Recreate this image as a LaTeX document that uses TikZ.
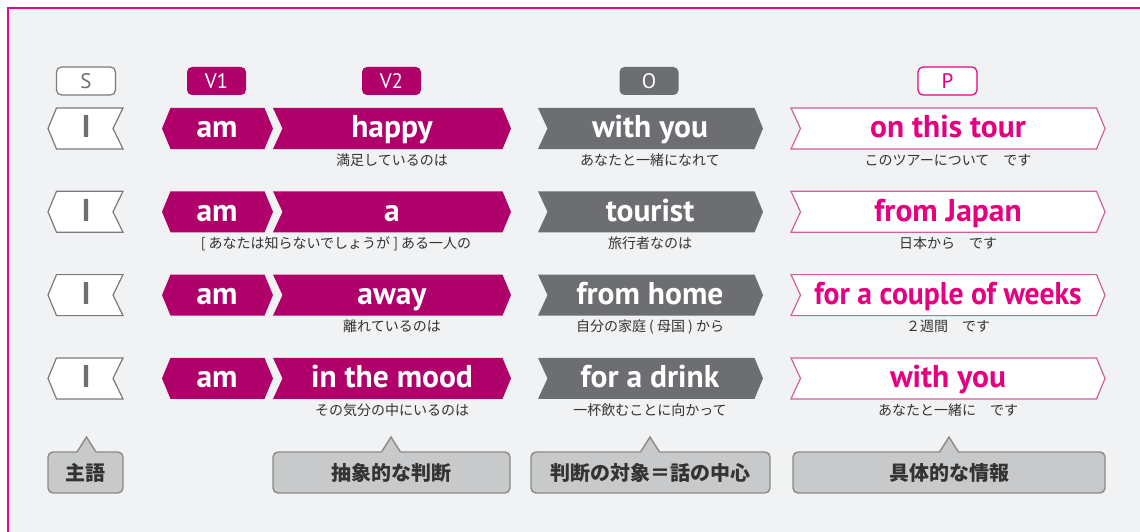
\documentclass[tikz,border=0pt]{standalone}
\usepackage{fontspec}
\usepackage{graphicx}
\setmainfont{PT Sans}
\newfontfamily\jp{Noto Sans CJK JP}
\definecolor{mag}{HTML}{B0006A}
\definecolor{gry}{HTML}{6D6E71}
\definecolor{pnk}{HTML}{E4007F}
\definecolor{pnkline}{HTML}{D2609A}
\definecolor{bgc}{HTML}{F1F2F4}
\definecolor{framec}{HTML}{E8068C}
\definecolor{calfill}{HTML}{C8C9CB}
\definecolor{calline}{HTML}{8A8A8A}
\definecolor{jptext}{HTML}{333333}
\definecolor{ibord}{HTML}{7A7A7C}
% shapes: style, x1, x2, ycenter
\newcommand{\shPN}[4]{\draw[#1] (#2,#4) -- (#2+8.5,#4-20.5) -- (#3,#4-20.5) -- (#3-10,#4) -- (#3,#4+20.5) -- (#2+8.5,#4+20.5) -- cycle;}
\newcommand{\shPP}[4]{\draw[#1] (#2,#4) -- (#2+8.5,#4-20.5) -- (#3-8.5,#4-20.5) -- (#3,#4) -- (#3-8.5,#4+20.5) -- (#2+8.5,#4+20.5) -- cycle;}
\newcommand{\shNP}[4]{\draw[#1] (#2,#4-20.5) -- (#3-8.5,#4-20.5) -- (#3,#4) -- (#3-8.5,#4+20.5) -- (#2,#4+20.5) -- (#2+9.5,#4) -- cycle;}
% callout: x1, x2, apex x, name, text
\newcommand{\callout}[5]{%
  \draw[calstyle, rounded corners=5pt] (#1,452) rectangle (#2,493);
  \fill[calfill] (#3-9.5,452) -- (#3,437) -- (#3+9.5,452) -- (#3+9.5,454) -- (#3-9.5,454) -- cycle;
  \draw[calline, line width=1.4pt, line join=miter] (#3-9.5,452) -- (#3,437) -- (#3+9.5,452);
  \node[caltext] (#4) at ({(#1+#2)/2},472.5) {#5};}
\tikzset{
  en/.style={font=\fontsize{31.5}{31.5}\selectfont\bfseries, anchor=base, inner sep=0pt},
  lab/.style={rounded corners=5pt, minimum width=59pt, minimum height=28pt, inner sep=0pt, font=\fontsize{21}{21}\selectfont, line width=1.2pt},
  jpsub/.style={font=\jp\fontsize{14}{14}\selectfont, text=jptext, inner sep=0pt},
  caltext/.style={font=\jp\bfseries\fontsize{20}{20}\selectfont, text=jptext, inner sep=0pt},
  calstyle/.style={fill=calfill, draw=calline, line width=1.4pt},
  magbox/.style={fill=mag, draw=none},
  grybox/.style={fill=gry, draw=none},
  ibox/.style={fill=white, draw=ibord, line width=1.2pt},
  pbox/.style={fill=white, draw=pnkline, line width=1.2pt},
}
\begin{document}
\begin{tikzpicture}[x=1pt,y=-1pt]
\useasboundingbox (0,0) rectangle (1140,532);
\fill[white] (0,0) rectangle (1140,532);
\fill[bgc] (8,8) rectangle (1140,532);
\draw[framec, line width=2.6pt] (8,532) -- (8,8) -- (1140,8);

% header labels
\node[lab, fill=white, draw=ibord, text=gry] (labS) at (86,81) {S};
\node[lab, fill=mag, text=white] (labV1) at (216.5,81) {V1};
\node[lab, fill=mag, text=white] (labV2) at (391.5,81) {V2};
\node[lab, fill=gry, text=white] (labO) at (649,81) {O};
\node[lab, fill=white, draw=pnk, text=pnk] (labP) at (947.5,81) {P};

% rows
\foreach \y/\n in {128.5/1, 211.8/2, 295.1/3, 378.4/4}{
  \shPN{ibox}{48}{123}{\y}
  \shPP{magbox}{162}{273}{\y}
  \shNP{magbox}{273}{511}{\y}
  \shNP{grybox}{538}{763}{\y}
  \shNP{pbox}{791}{1105}{\y}
  \node[en, text=gry] (i\n) at (86,\y+9.5) {I};
  \node[en, text=white] (am\n) at (217,\y+9.5) {am};
}

% row 1
\node[en, text=white] (v2a) at (392,128.5+9.5) {happy};
\node[en, text=white] (oa) at (650,128.5+9.5) {with you};
\node[en, text=pnk] (pa) at (948,128.5+9.5) {on this tour};
\node[jpsub] (v2ja) at (392,160) {満足しているのは};
\node[jpsub] (oja) at (650,160) {あなたと一緒になれて};
\node[jpsub] (pja) at (948,160) {このツアーについて　です};

% row 2
\node[en, text=white] (v2b) at (392,211.8+9.5) {a};
\node[en, text=white] (ob) at (650,211.8+9.5) {tourist};
\node[en, text=pnk] (pb) at (948,211.8+9.5) {from Japan};
\node[jpsub] (v2jb) at (336,243.3) {[ あなたは知らないでしょうが ] ある一人の};
\node[jpsub] (ojb) at (650,243.3) {旅行者なのは};
\node[jpsub] (pjb) at (948,243.3) {日本から　です};

% row 3
\node[en, text=white] (v2c) at (392,295.1+9.5) {away};
\node[en, text=white] (oc) at (650,295.1+9.5) {from home};
\node[en, text=pnk] (pc) at (948,295.1+9.5) {\scalebox{0.94}[1]{for a couple of weeks}};
\node[jpsub] (v2jc) at (392,326.6) {離れているのは};
\node[jpsub] (ojc) at (650,326.6) {自分の家庭 ( 母国 ) から};
\node[jpsub] (pjc) at (948,326.6) {２週間　です};

% row 4
\node[en, text=white] (v2d) at (392,378.4+9.5) {in the mood};
\node[en, text=white] (od) at (650,378.4+9.5) {for a drink};
\node[en, text=pnk] (pd) at (948,378.4+9.5) {with you};
\node[jpsub] (v2jd) at (392,410) {その気分の中にいるのは};
\node[jpsub] (ojd) at (650,410) {一杯飲むことに向かって};
\node[jpsub] (pjd) at (948,410) {あなたと一緒に　です};

% callouts
\callout{48}{123}{86.5}{c1}{主語}
\callout{273}{510}{391}{c2}{抽象的な判断}
\callout{531}{770}{650}{c3}{判断の対象＝話の中心}
\callout{793}{1105}{949}{c4}{具体的な情報}
\end{tikzpicture}
\end{document}
